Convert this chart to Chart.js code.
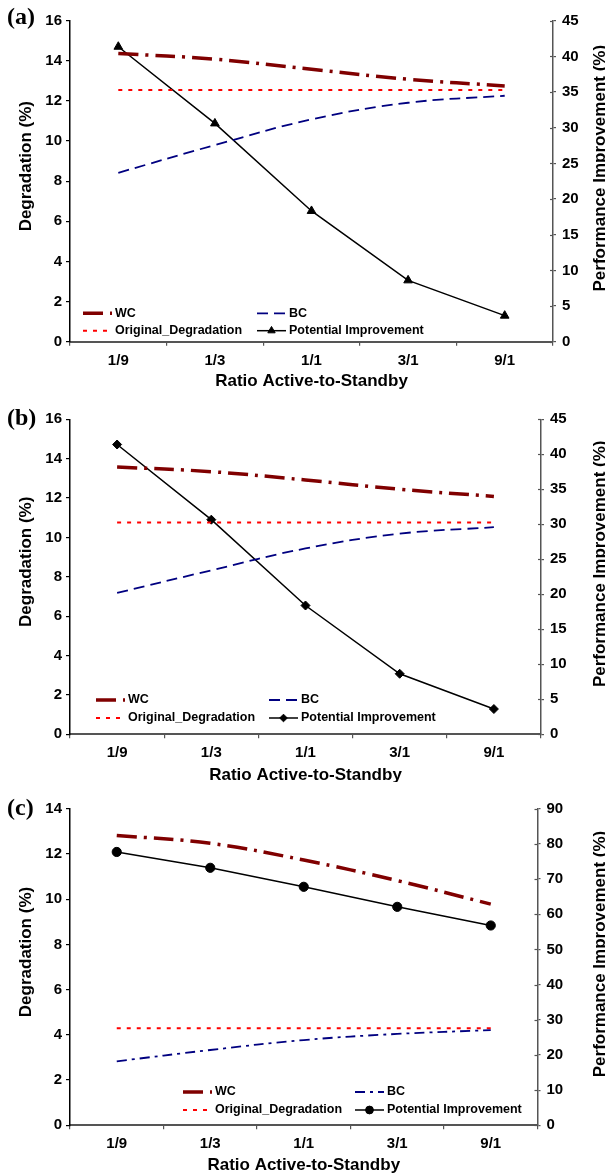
<!DOCTYPE html>
<html>
<head>
<meta charset="utf-8">
<script src="https://cdn.jsdelivr.net/npm/chart.js@4.4.1/dist/chart.umd.min.js"></script>
<style>
html, body { margin: 0; padding: 0; background: #fff; }
canvas { display: block; }
</style>
</head>
<body>
<canvas id="chartA" width="605" height="392"></canvas>
<canvas id="chartB" width="605" height="390"></canvas>
<canvas id="chartC" width="605" height="392"></canvas>
<script>
// categories + values
const ratios = ['1/9', '1/3', '1/1', '3/1', '9/1'];

const wcA   = [14.37, 14.08, 13.58, 13.08, 12.75];
const bcA   = [8.42, 9.80, 11.08, 11.91, 12.26];
const origA = [12.55, 12.55, 12.55, 12.55, 12.55];
const piA   = [41.35, 30.6, 18.33, 8.6, 3.65];

const wcB   = [13.58, 13.34, 12.92, 12.45, 12.08];
const bcB   = [7.18, 8.33, 9.44, 10.19, 10.52];
const origB = [10.76, 10.76, 10.76, 10.76, 10.76];
const piB   = [41.4, 30.66, 18.4, 8.65, 3.61];

const wcC   = [12.82, 12.47, 11.73, 10.82, 9.78];
const bcC   = [2.83, 3.33, 3.77, 4.04, 4.21];
const origC = [4.29, 4.29, 4.29, 4.29, 4.29];
const piC   = [77.7, 73.2, 67.8, 62.1, 56.8];

// axis ranges
const degMaxAB = 16, degMaxC = 14, degStep = 2;
const impMaxAB = 45, impStepAB = 5;
const impMaxC = 90, impStepC = 10;

const FONT = 'Arial, "Liberation Sans", sans-serif';
const W = 605;

function drawRot(ctx, text, x, y) {
    ctx.save();
    ctx.translate(x, y);
    ctx.rotate(-Math.PI / 2);
    ctx.fillText(text, 0, 0);
    ctx.restore();
}

// titles, panel tag, inner ticks and the in-plot legend
const decor = {
    id: 'decor',
    afterDraw(chart, args, o) {
        const ctx = chart.ctx;
        const area = chart.chartArea;
        ctx.save();

        // right axis ticks cross the axis line
        const r = chart.scales.y1;
        ctx.strokeStyle = '#555';
        ctx.lineWidth = 1.2;
        r.ticks.forEach((t, i) => {
            const py = Math.round(r.getPixelForTick(i)) + 0.5;
            ctx.beginPath();
            ctx.moveTo(r.left - 3, py);
            ctx.lineTo(r.left, py);
            ctx.stroke();
        });

        ctx.fillStyle = '#000';
        ctx.font = 'bold 17px ' + FONT;
        ctx.textAlign = 'center';
        ctx.textBaseline = 'alphabetic';
        const cy = (area.top + area.bottom) / 2 - 15;
        drawRot(ctx, 'Degradation (%)', 30.5, cy);
        drawRot(ctx, 'Performance Improvement (%)', 605, cy + 2);
        ctx.fillText('Ratio Active-to-Standby', (area.left + area.right) / 2, o.xTitleBase);

        ctx.font = 'bold 24px "Liberation Serif", "Times New Roman", serif';
        ctx.textAlign = 'left';
        ctx.fillText(o.tag, 7, o.tagBase);

        // legend: 2 columns x 2 rows
        const slots = [[0, 0], [1, 0], [0, 1], [1, 1]];
        ctx.font = 'bold 12.5px ' + FONT;
        ctx.textBaseline = 'middle';
        chart.data.datasets.forEach((ds, i) => {
            const x = o.legendX[slots[i][0]];
            const y = o.legendY[slots[i][1]];
            ctx.save();
            ctx.strokeStyle = ds.borderColor;
            ctx.lineWidth = ds.borderWidth;
            ctx.setLineDash(ds.borderDash || []);
            ctx.lineCap = 'butt';
            ctx.beginPath();
            ctx.moveTo(x, y);
            ctx.lineTo(x + 29, y);
            ctx.stroke();
            ctx.setLineDash([]);
            if (ds.pointStyle && ds.pointRadius > 0) {
                ctx.fillStyle = ds.pointBackgroundColor;
                ctx.strokeStyle = ds.borderColor;
                ctx.lineWidth = 1;
                Chart.helpers.drawPoint(ctx, {
                    pointStyle: ds.pointStyle, rotation: 0,
                    radius: ds.pointRadius * 0.85, borderWidth: 1
                }, x + 14.5, y);
            }
            ctx.restore();
            ctx.fillStyle = '#000';
            ctx.fillText(ds.label, x + 32, y);
        });
        ctx.restore();
    }
};

function makeChart(id, p) {
    const H = document.getElementById(id).height;
    const tickFont = { family: FONT, size: 15, weight: 'bold' };
    return new Chart(document.getElementById(id), {
        type: 'line',
        data: {
            labels: ratios,
            datasets: [
                {
                    label: 'WC', data: p.wc, yAxisID: 'y',
                    borderColor: '#800000', borderWidth: 3.5,
                    borderDash: [20, 7, 3, 7], borderCapStyle: 'butt',
                    pointRadius: 0, tension: 0.4, fill: false
                },
                {
                    label: 'BC', data: p.bc, yAxisID: 'y',
                    borderColor: '#000080', borderWidth: 1.8,
                    borderDash: p.bcDash, borderCapStyle: 'butt',
                    pointRadius: 0, tension: 0.4, fill: false
                },
                {
                    label: 'Original_Degradation', data: p.orig, yAxisID: 'y',
                    borderColor: '#ff0000', borderWidth: 2,
                    borderDash: [4, 6], borderCapStyle: 'butt',
                    pointRadius: 0, tension: 0, fill: false
                },
                {
                    label: 'Potential Improvement', data: p.pi, yAxisID: 'y1',
                    borderColor: '#000', borderWidth: 1.5,
                    pointStyle: p.marker, pointRadius: p.markerR,
                    pointBackgroundColor: '#000', pointBorderColor: '#000',
                    pointBorderWidth: 1, tension: 0, fill: false
                }
            ]
        },
        options: {
            responsive: false,
            animation: false,
            events: [],
            layout: { padding: { top: p.top, left: 0, right: 0, bottom: 0 } },
            plugins: {
                legend: { display: false },
                tooltip: { enabled: false },
                decor: p.decor
            },
            scales: {
                x: {
                    offset: true,
                    grid: { offset: true, drawOnChartArea: false, tickLength: 4, color: '#555', lineWidth: 1.2 },
                    border: { color: '#555', width: 2 },
                    ticks: { font: tickFont, color: '#000', padding: 6, maxRotation: 0, autoSkip: false },
                    afterFit(s) { s.height = H - p.bottom; }
                },
                y: {
                    position: 'left', min: 0, max: p.degMax,
                    grid: { drawOnChartArea: false, tickLength: 4, color: '#000', lineWidth: 1.2 },
                    border: { color: '#000', width: 1.5 },
                    ticks: { stepSize: degStep, font: tickFont, color: '#000', padding: 4 },
                    afterFit(s) { s.width = 70; }
                },
                y1: {
                    position: 'right', min: 0, max: p.impMax,
                    grid: { drawOnChartArea: false, tickLength: 3, color: '#555', lineWidth: 1.2 },
                    border: { color: '#555', width: 1.5 },
                    ticks: { stepSize: p.impStep, font: tickFont, color: '#000', padding: 6 },
                    afterFit(s) { s.width = W - p.rightX; }
                }
            }
        },
        plugins: [decor]
    });
}

makeChart('chartA', {
    wc: wcA, bc: bcA, orig: origA, pi: piA,
    bcDash: [11, 6], marker: 'triangle', markerR: 5,
    degMax: degMaxAB, impMax: impMaxAB, impStep: impStepAB,
    top: 20.7, bottom: 341.7, rightX: 553,
    decor: { tag: '(a)', tagBase: 24, xTitleBase: 386, legendX: [83, 257], legendY: [313.3, 330.7] }
});

makeChart('chartB', {
    wc: wcB, bc: bcB, orig: origB, pi: piB,
    bcDash: [11, 6], marker: 'rectRot', markerR: 4.5,
    degMax: degMaxAB, impMax: impMaxAB, impStep: impStepAB,
    top: 27.3, bottom: 342.3, rightX: 541,
    decor: { tag: '(b)', tagBase: 33, xTitleBase: 387.5, legendX: [96, 269], legendY: [308, 326] }
});

makeChart('chartC', {
    wc: wcC, bc: bcC, orig: origC, pi: piC,
    bcDash: [10, 5, 3, 5], marker: 'circle', markerR: 4.6,
    degMax: degMaxC, impMax: impMaxC, impStep: impStepC,
    top: 26.7, bottom: 343.3, rightX: 537.5,
    decor: { tag: '(c)', tagBase: 33, xTitleBase: 387.5, legendX: [183, 355], legendY: [310, 328] }
});
</script>
</body>
</html>
